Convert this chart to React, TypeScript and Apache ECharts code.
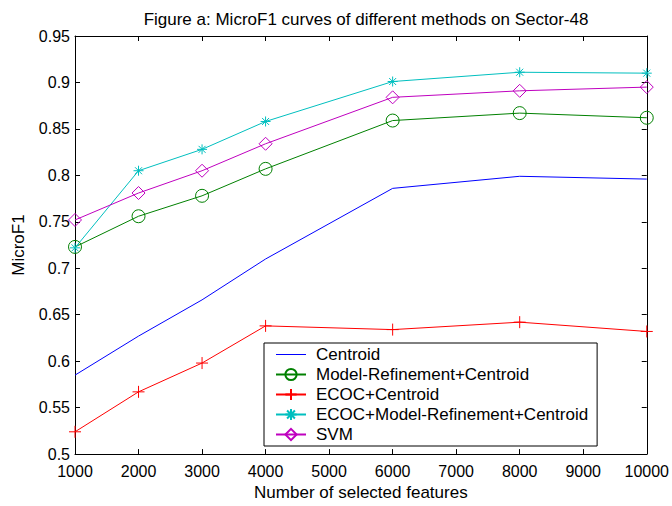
import React, { useEffect, useRef } from "react";
import * as echarts from "echarts";

const features = [1000, 2000, 3000, 4000, 6000, 8000, 10000];
const centroid = [0.585, 0.627, 0.666, 0.71, 0.786, 0.799, 0.796];
const modelRefinement = [0.723, 0.756, 0.778, 0.807, 0.859, 0.867, 0.862];
const ecocCentroid = [0.524, 0.567, 0.598, 0.638, 0.634, 0.642, 0.632];
const ecocModelRefinement = [0.722, 0.805, 0.828, 0.858, 0.901, 0.911, 0.91];
const svm = [0.752, 0.781, 0.805, 0.834, 0.884, 0.891, 0.895];

const seriesNames = [
  "Centroid",
  "Model-Refinement+Centroid",
  "ECOC+Centroid",
  "ECOC+Model-Refinement+Centroid",
  "SVM",
];

const FONT = "'Liberation Sans', Arial, Helvetica, sans-serif";
const PLUS = "path://M0,-1L0,1M-1,0L1,0";
const STAR = "path://M0,-1L0,1M-1,0L1,0M-0.7,-0.7L0.7,0.7M-0.7,0.7L0.7,-0.7";
const CIRCLE = "path://M-1,0A1,1,0,1,1,1,0A1,1,0,1,1,-1,0Z";
const DIAMOND = "path://M0,-1L1,0L0,1L-1,0Z";
const LINE_ICON = "path://M0,0L30,0L30,1L0,1Z";

function pairs(ys: number[]) {
  return features.map((x, i) => [x, ys[i]]);
}

export default function App() {
  const ref = useRef<HTMLDivElement>(null);
  useEffect(() => {
    if (!ref.current) return;
    const chart = echarts.init(ref.current, undefined, { renderer: "svg" });
    const axisCommon = {
      axisLine: { show: true, lineStyle: { color: "#000", width: 1 } },
      axisTick: { show: true, inside: true, length: 5, lineStyle: { color: "#000" } },
      splitLine: { show: false },
    };
    const markerStyle = (c: string) => ({
      color: "transparent",
      borderColor: c,
      borderWidth: 1,
    });
    chart.setOption({
      animation: false,
      backgroundColor: "#fff",
      textStyle: { fontFamily: FONT },
      title: {
        text: "Figure a: MicroF1 curves of different methods on Sector-48",
        left: 361,
        textAlign: "center",
        top: 6,
        textStyle: { fontFamily: FONT, fontSize: 17, fontWeight: "normal", color: "#000" },
      },
      grid: { left: 75, right: 24, top: 36, bottom: 47, containLabel: false },
      xAxis: [
        {
          type: "value",
          min: 1000,
          max: 10000,
          interval: 1000,
          position: "bottom",
          name: "Number of selected features",
          nameLocation: "middle",
          nameGap: 19,
          nameTextStyle: { fontFamily: FONT, fontSize: 17, color: "#000" },
          axisLabel: {
            fontFamily: FONT,
            fontSize: 16,
            color: "#000",
            margin: 9,
            formatter: (v: number) => String(v),
          },
          ...axisCommon,
        },
        {
          type: "value",
          min: 1000,
          max: 10000,
          interval: 1000,
          position: "top",
          axisLabel: { show: false },
          ...axisCommon,
        },
      ],
      yAxis: [
        {
          type: "value",
          min: 0.5,
          max: 0.95,
          interval: 0.05,
          position: "left",
          name: "MicroF1",
          nameLocation: "middle",
          nameGap: 48,
          nameTextStyle: { fontFamily: FONT, fontSize: 17, color: "#000" },
          axisLabel: { fontFamily: FONT, fontSize: 16, color: "#000", margin: 5 },
          ...axisCommon,
        },
        {
          type: "value",
          min: 0.5,
          max: 0.95,
          interval: 0.05,
          position: "right",
          axisLabel: { show: false },
          ...axisCommon,
        },
      ],
      legend: {
        orient: "vertical",
        left: 264,
        top: 343,
        data: [
          { name: seriesNames[0], icon: LINE_ICON, itemStyle: { color: "#0000ff" } },
          { name: seriesNames[1] },
          { name: seriesNames[2] },
          { name: seriesNames[3] },
          { name: seriesNames[4] },
        ],
        backgroundColor: "#fff",
        borderColor: "#000",
        borderWidth: 1,
        borderRadius: 0,
        padding: [3, 9, 3, 11],
        itemGap: 3,
        itemWidth: 30,
        itemHeight: 14,
        textStyle: {
          fontFamily: FONT,
          fontSize: 17,
          lineHeight: 17,
          color: "#000",
          padding: [0, 0, 0, 5],
        },
      },
      series: [
        {
          name: seriesNames[0],
          type: "line",
          data: pairs(centroid),
          symbol: "none",
          lineStyle: { color: "#0000ff", width: 1 },
          itemStyle: { color: "#0000ff" },
        },
        {
          name: seriesNames[1],
          type: "line",
          data: pairs(modelRefinement),
          symbol: CIRCLE,
          symbolSize: 13,
          lineStyle: { color: "#008000", width: 1 },
          itemStyle: markerStyle("#008000"),
        },
        {
          name: seriesNames[2],
          type: "line",
          data: pairs(ecocCentroid),
          symbol: PLUS,
          symbolSize: 12,
          lineStyle: { color: "#ff0000", width: 1 },
          itemStyle: markerStyle("#ff0000"),
        },
        {
          name: seriesNames[3],
          type: "line",
          data: pairs(ecocModelRefinement),
          symbol: STAR,
          symbolSize: 10,
          lineStyle: { color: "#00bfbf", width: 1 },
          itemStyle: markerStyle("#00bfbf"),
        },
        {
          name: seriesNames[4],
          type: "line",
          data: pairs(svm),
          symbol: DIAMOND,
          symbolSize: 13,
          lineStyle: { color: "#bf00bf", width: 1 },
          itemStyle: markerStyle("#bf00bf"),
        },
      ],
    });
    return () => chart.dispose();
  }, []);
  return <div ref={ref} style={{ width: 672, height: 506, position: "absolute", left: 0, top: 0 }} />;
}
